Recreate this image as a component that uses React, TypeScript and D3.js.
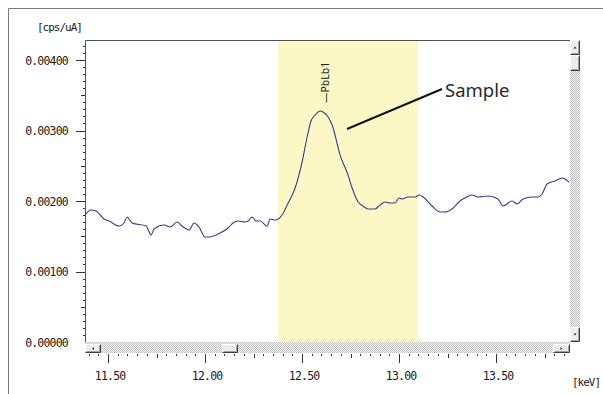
import React from "react";
import * as d3 from "d3";

const energies = [
  11.381, 11.412, 11.438, 11.479, 11.505, 11.557, 11.582, 11.598, 11.624, 11.696,
  11.722, 11.737, 11.789, 11.82, 11.856, 11.881, 11.918, 11.943, 11.969, 12.0,
  12.021, 12.067, 12.119, 12.144, 12.17, 12.206, 12.222, 12.242, 12.263, 12.284,
  12.32, 12.335, 12.361, 12.397, 12.423, 12.464, 12.5, 12.526, 12.546, 12.567,
  12.593, 12.608, 12.634, 12.655, 12.696, 12.737, 12.758, 12.789, 12.814, 12.84,
  12.876, 12.902, 12.928, 12.954, 12.979, 13.0, 13.015, 13.046, 13.082, 13.103,
  13.124, 13.17, 13.211, 13.237, 13.273, 13.314, 13.34, 13.376, 13.407, 13.459,
  13.51, 13.536, 13.582, 13.608, 13.639, 13.686, 13.716, 13.737, 13.763, 13.804,
  13.84, 13.876,
];

const intensities = [
  0.001801, 0.001872, 0.001858, 0.001745, 0.001716, 0.001645, 0.001688, 0.001773, 0.001688, 0.001645,
  0.001518, 0.001603, 0.00166, 0.001631, 0.001702, 0.001645, 0.001589, 0.001688, 0.001631, 0.001489,
  0.001489, 0.001532, 0.001617, 0.001688, 0.001716, 0.001702, 0.001716, 0.001773, 0.001716, 0.001716,
  0.001645, 0.001745, 0.00173, 0.001801, 0.001943, 0.002184, 0.002553, 0.002908, 0.003135, 0.00322,
  0.003277, 0.003262, 0.003191, 0.003078, 0.002652, 0.002369, 0.002184, 0.001986, 0.001929, 0.001887,
  0.001887, 0.001943, 0.001986, 0.001972, 0.001972, 0.002043, 0.002028, 0.002057, 0.002057, 0.002085,
  0.002057, 0.001929, 0.001844, 0.001844, 0.001887, 0.002, 0.002043, 0.002085, 0.002057, 0.002071,
  0.002028, 0.001929, 0.002, 0.001957, 0.002028, 0.002057, 0.002057, 0.002099, 0.002241, 0.002284,
  0.002326, 0.00227,
];

const yTickValues = [0, 0.001, 0.002, 0.003, 0.004];
const xTickValues = [11.5, 12.0, 12.5, 13.0, 13.5];
const roiRange = [12.376, 13.098];
const xDomain = [11.381, 13.881];
const yDomain = [0, 0.004284];
const peakLabel = "—PbLb1";
const peakEnergy = 12.593;
const seriesLabel = "Sample";
const yUnit = "[cps/uA]";
const xUnit = "[keV]";

const L = 85, R = 570, T = 40, B = 342;
const mono = "'DejaVu Sans Mono', 'Liberation Mono', monospace";

function Button({ x, y, w, h, dir }: { x: number; y: number; w: number; h: number; dir?: string }) {
  const cx = x + w / 2, cy = y + h / 2;
  let arrow = "";
  if (dir === "up") arrow = `M${cx - 1.5},${cy + 1} L${cx + 1.5},${cy + 1} L${cx},${cy - 1} Z`;
  if (dir === "down") arrow = `M${cx - 1.5},${cy - 1} L${cx + 1.5},${cy - 1} L${cx},${cy + 1} Z`;
  if (dir === "left") arrow = `M${cx + 1},${cy - 1.5} L${cx + 1},${cy + 1.5} L${cx - 1},${cy} Z`;
  if (dir === "right") arrow = `M${cx - 1},${cy - 1.5} L${cx - 1},${cy + 1.5} L${cx + 1},${cy} Z`;
  return (
    <g>
      <rect x={x} y={y} width={w} height={h} fill="#ececec" />
      <path d={`M${x + 0.5},${y + h - 0.5} V${y + 0.5} H${x + w - 0.5}`} stroke="#ffffff" fill="none" />
      <path d={`M${x + 0.5},${y + h - 0.5} H${x + w - 0.5} V${y + 0.5}`} stroke="#404040" fill="none" />
      <path d={`M${x + 1.5},${y + h - 1.5} H${x + w - 1.5} V${y + 1.5}`} stroke="#a0a0a0" fill="none" />
      {arrow && <path d={arrow} fill="#303030" />}
    </g>
  );
}

export default function App() {
  const x = d3.scaleLinear().domain(xDomain).range([L, R]);
  const y = d3.scaleLinear().domain(yDomain).range([B, T]);
  const pts = energies.map((e, i) => [e, intensities[i]] as [number, number]);
  const line = d3
    .line<[number, number]>()
    .x((d) => x(d[0]))
    .y((d) => y(d[1]))
    .curve(d3.curveMonotoneX);

  const yMinor = d3.range(1, 43).map((i) => ({ v: i * 0.0001, i }));
  const xMinor = d3.range(228, 278).map((i) => ({ v: i * 0.05, i }));
  const fmtY = d3.format(".5f");
  const fmtX = d3.format(".2f");
  const peakY = y(d3.max(intensities) as number);

  return (
    <svg
      width={603}
      height={394}
      style={{ position: "absolute", left: 0, top: 0, background: "#fff" }}
    >
      <defs>
        <pattern id="hatch" width={2} height={2} patternUnits="userSpaceOnUse">
          <rect width={2} height={2} fill="#f2f2f2" />
          <rect width={1} height={1} fill="#c4c4c4" />
          <rect x={1} y={1} width={1} height={1} fill="#c4c4c4" />
        </pattern>
      </defs>
      {/* outer frame */}
      <path d="M8.5,394 V8.5 H603" stroke="#7a7a7a" fill="none" />

      {/* ROI band */}
      <rect
        x={x(roiRange[0])}
        y={T}
        width={x(roiRange[1]) - x(roiRange[0])}
        height={B - T}
        fill="#fcf8c6"
      />

      {/* spectrum */}
      <path d={line(pts) || ""} fill="none" stroke="#3a3a86" strokeWidth={1.1} />

      {/* plot frame */}
      <path d={`M${L + 0.5},${B} V${T + 0.5} H${R}`} stroke="#505050" fill="none" />

      {/* y ticks */}
      {yMinor.map(({ v, i }) => {
        const len = i % 10 === 0 ? 9 : i % 5 === 0 ? 4 : 2;
        const yy = Math.round(y(v)) + 0.5;
        return <line key={"yt" + i} x1={L - len} x2={L} y1={yy} y2={yy} stroke="#333" />;
      })}
      {yTickValues.map((v) => (
        <text
          key={"yl" + v}
          x={68}
          y={y(v) + 4.5}
          textAnchor="end"
          fontFamily={mono}
          fontSize={11.5}
          letterSpacing={-0.8}
          fill="#1a1a1a"
        >
          {fmtY(v)}
        </text>
      ))}
      <text x={37} y={31} fontFamily={mono} fontSize={11} letterSpacing={-1} fill="#1a1a1a">
        {yUnit}
      </text>

      {/* x ticks */}
      {xMinor.map(({ v, i }) => {
        const len = i % 10 === 0 ? 9 : i % 5 === 0 ? 4 : 2;
        const xx = Math.round(x(v)) + 0.5;
        return <line key={"xt" + i} x1={xx} x2={xx} y1={354} y2={354 + len} stroke="#333" />;
      })}
      {xTickValues.map((v) => (
        <text
          key={"xl" + v}
          x={x(v) + 2}
          y={379.5}
          textAnchor="middle"
          fontFamily={mono}
          fontSize={11.5}
          letterSpacing={-0.8}
          fill="#1a1a1a"
        >
          {fmtX(v)}
        </text>
      ))}
      <text x={572} y={386} fontFamily={mono} fontSize={11} letterSpacing={-1} fill="#1a1a1a">
        {xUnit}
      </text>

      {/* vertical scrollbar */}
      <rect x={R} y={T} width={10} height={B - T} fill="url(#hatch)" />
      <Button x={R} y={T} w={10} h={15} dir="up" />
      <Button x={R} y={T + 15} w={10} h={16} />
      <Button x={R} y={B - 15} w={10} h={15} dir="down" />

      {/* horizontal scrollbar */}
      <rect x={L} y={B} width={R - L} height={11} fill="url(#hatch)" />
      <Button x={L} y={B + 2} w={16} h={9} dir="left" />
      <Button x={222} y={B + 2} w={16} h={9} />
      <Button x={R - 17} y={B + 2} w={17} h={9} dir="right" />

      {/* peak label */}
      <text
        transform={`translate(${x(peakEnergy) + 8.5},${peakY - 8}) rotate(-90)`}
        fontFamily="'Noto Sans', sans-serif"
        fontSize={10.5}
        fill="#222"
      >
        {peakLabel}
      </text>

      {/* series annotation */}
      <line x1={347} y1={129} x2={442} y2={89} stroke="#111" strokeWidth={2} />
      <text x={445} y={97} fontFamily="'Noto Sans', sans-serif" fontSize={18.5} fill="#2a2a2a">
        {seriesLabel}
      </text>
    </svg>
  );
}
